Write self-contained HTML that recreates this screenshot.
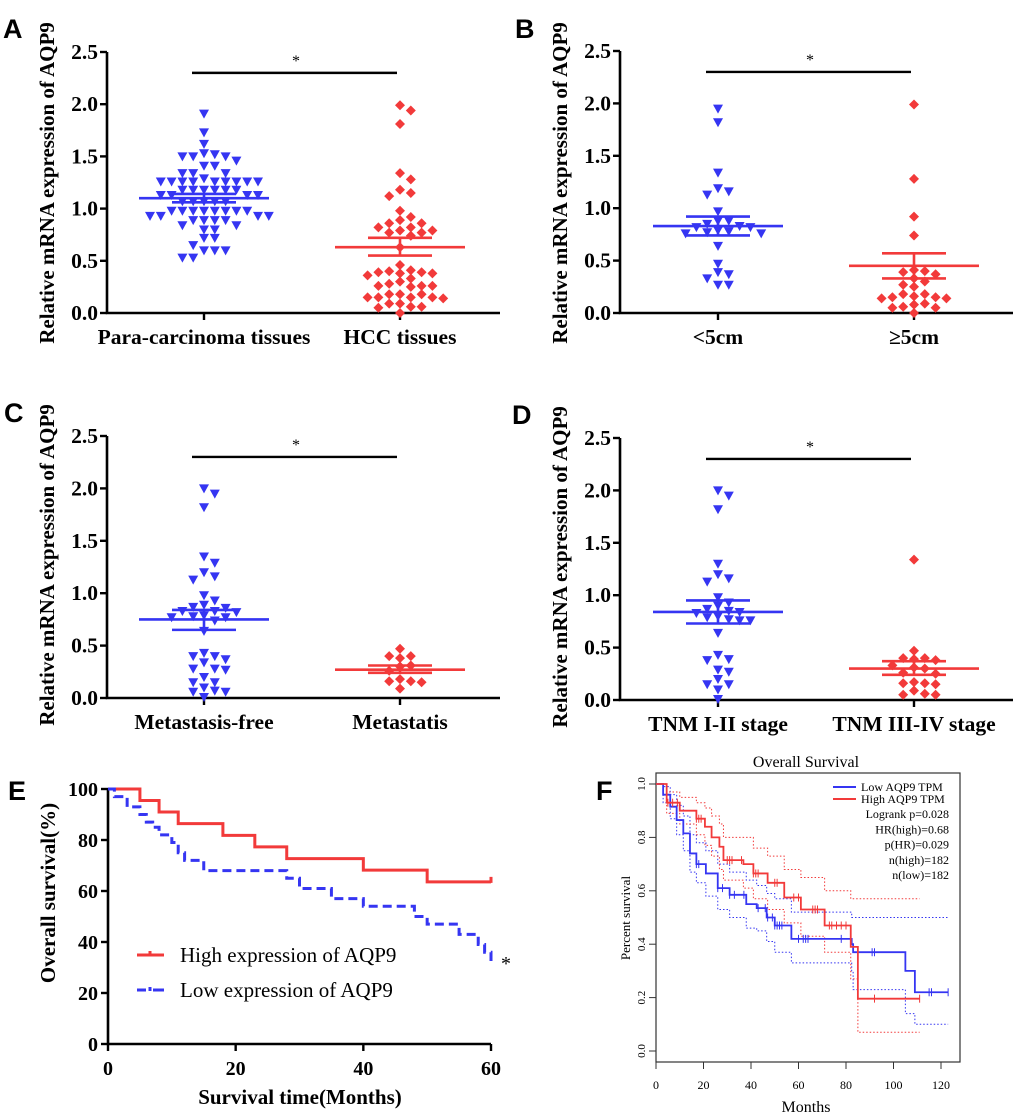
<!DOCTYPE html>
<html><head><meta charset="utf-8"><style>
html,body{margin:0;padding:0;background:#fff}
svg{display:block}
.sb{font-family:"Liberation Serif",serif;font-weight:bold}
.sr{font-family:"Liberation Serif",serif}
.lt{font-family:"Liberation Sans",sans-serif;font-weight:bold;font-size:27px}
</style></head><body>
<svg id="fig" width="1020" height="1118" viewBox="0 0 1020 1118" xmlns="http://www.w3.org/2000/svg"></svg>
<script>
// ---- Panel A data ----
const aCats=["Para-carcinoma tissues","HCC tissues"];
const aBlue=[1.91,1.73,1.62,1.53,1.50,1.50,1.50,1.52,1.46,1.41,1.41,1.34,1.34,1.34,1.29,1.26,1.26,1.26,1.26,1.26,1.26,1.26,1.26,1.26,1.18,1.18,1.18,1.18,1.18,1.18,1.13,1.13,1.13,1.13,1.07,1.07,1.07,1.07,1.07,0.98,0.98,0.98,0.98,0.98,0.98,0.98,0.98,0.93,0.93,0.93,0.93,0.89,0.89,0.89,0.89,0.84,0.84,0.80,0.80,0.72,0.72,0.65,0.60,0.60,0.60,0.53,0.53];
const aRed=[1.99,1.94,1.81,1.34,1.28,1.18,1.15,1.12,0.98,0.92,0.89,0.86,0.86,0.82,0.82,0.79,0.79,0.77,0.77,0.74,0.63,0.46,0.41,0.39,0.40,0.39,0.38,0.38,0.36,0.33,0.30,0.28,0.25,0.26,0.26,0.26,0.18,0.18,0.18,0.15,0.15,0.15,0.15,0.14,0.09,0.09,0.06,0.06,0.05,0.0];
const aMean=[1.10,0.63], aSemLo=[1.06,0.55], aSemHi=[1.14,0.72];
// ---- Panel B data ----
const bCats=["<5cm","≥5cm"];
const bBlue=[1.95,1.82,1.34,1.19,1.16,1.13,0.97,0.88,0.88,0.85,0.83,0.82,0.82,0.79,0.78,0.77,0.76,0.76,0.64,0.47,0.39,0.37,0.33,0.27,0.27];
const bRed=[1.99,1.28,0.92,0.74,0.41,0.40,0.39,0.37,0.33,0.30,0.27,0.25,0.18,0.18,0.16,0.15,0.15,0.14,0.14,0.09,0.08,0.06,0.05,0.05,0.0];
const bMean=[0.83,0.45], bSemLo=[0.74,0.33], bSemHi=[0.92,0.57];
// ---- Panel C data ----
const cCats=["Metastasis-free","Metastatis"];
const cBlue=[2.0,1.95,1.82,1.35,1.29,1.20,1.16,1.13,0.98,0.93,0.89,0.87,0.86,0.83,0.83,0.82,0.79,0.78,0.77,0.77,0.74,0.64,0.43,0.40,0.40,0.37,0.34,0.28,0.27,0.28,0.20,0.15,0.15,0.10,0.07,0.06,0.06,0.01];
const cRed=[0.47,0.40,0.38,0.40,0.31,0.30,0.26,0.18,0.16,0.16,0.15,0.09];
const cMean=[0.75,0.27], cSemLo=[0.65,0.24], cSemHi=[0.84,0.31];
// ---- Panel D data ----
const dCats=["TNM I-II stage","TNM III-IV stage"];
const dBlue=[2.0,1.95,1.82,1.30,1.20,1.16,1.13,0.98,0.93,0.90,0.87,0.85,0.84,0.83,0.80,0.79,0.77,0.76,0.76,0.64,0.43,0.39,0.38,0.29,0.27,0.20,0.15,0.15,0.10,0.01];
const dRed=[1.34,0.47,0.40,0.40,0.38,0.39,0.33,0.30,0.31,0.26,0.25,0.17,0.16,0.16,0.15,0.09,0.06,0.05,0.05];
const dMean=[0.84,0.30], dSemLo=[0.73,0.24], dSemHi=[0.95,0.37];
const scatTicks=["0.0","0.5","1.0","1.5","2.0","2.5"];
// ---- Panel E data ----
const eHighT=[0,5,8,11,18,23,28,40,50,60];
const eHighS=[100,95.5,91,86.4,81.8,77.3,72.7,68.2,63.6,63.6];
const eLowT=[0,1,3,5,6,7,8,10,11,12,15,28,30,35,40,48,50,55,58,59,60];
const eLowS=[100,97,93,90,87,85,82,79,75,72,68,65,61,57,54,50,47,43,39,36,32];
const eYTicks=[0,20,40,60,80,100];
const eXTicks=[0,20,40,60];
// ---- Panel F data ----
const fHighT=[0,4.5,10,17,20.6,23.4,26.7,28.4,36.8,41,47,54,61,71,82,85,111];
const fHighS=[1,0.93,0.90,0.87,0.84,0.80,0.765,0.715,0.70,0.665,0.63,0.575,0.53,0.47,0.39,0.196,0.196];
const fHighU=[1,0.97,0.95,0.93,0.91,0.88,0.85,0.80,0.80,0.76,0.73,0.68,0.65,0.60,0.57,0.57,0.57];
const fHighL=[1,0.89,0.85,0.81,0.77,0.73,0.68,0.64,0.61,0.57,0.53,0.48,0.43,0.37,0.27,0.07,0.07];
const fLowT=[0,3,6,8.7,11.5,14.3,17,21,26,31,38,42.4,46.6,50,57,82.4,83,105,109,123];
const fLowS=[1,0.96,0.915,0.865,0.815,0.74,0.70,0.665,0.61,0.585,0.55,0.535,0.50,0.47,0.42,0.40,0.37,0.30,0.22,0.22];
const fLowU=[1,0.99,0.96,0.92,0.88,0.81,0.78,0.75,0.70,0.67,0.64,0.62,0.59,0.57,0.52,0.50,0.50,0.50,0.50,0.50];
const fLowL=[1,0.93,0.87,0.81,0.75,0.67,0.63,0.58,0.53,0.50,0.46,0.45,0.41,0.37,0.33,0.30,0.23,0.14,0.10,0.10];
const fHighCens=[5,7,9,17,18,19,30,31,32,36,41,42,43,50,51,58,60,66,67,68,73,74,76,78,80,92,111];
const fLowCens=[17,18,26,28,31,33,37,43,46,47,49,50,51,52,53,60,62,63,64,78,82,91,92,115,116,123];
const fYTicks=[0,0.2,0.4,0.6,0.8,1.0];
const fXTicks=[0,20,40,60,80,100,120];

const NS="http://www.w3.org/2000/svg";
const svg=document.getElementById('fig');
function mk(tag,attrs,parent,text){const e=document.createElementNS(NS,tag);for(const k in attrs)e.setAttribute(k,attrs[k]);if(text!==undefined)e.textContent=text;(parent||svg).appendChild(e);return e;}
const BLUE="#3535f2", RED="#f23a3a";

function panelLetter(x,y,t){
  const e=mk('text',{x:x,y:y,class:'lt'},svg,t);
  
  
}

function scatterPanel(o){
  const g=mk('g',{});
  
  
  const ys=v=>o.y0-(o.y0-o.y25)*v/2.5;
  const ax=mk('path',{d:`M${o.ax},${o.y25} V${o.y0} H${o.xEnd}`,stroke:'#000','stroke-width':2.6,fill:'none'},g);
  
  
  scatTicks.forEach((t,i)=>{
    const y=ys(+t);
    const tk=mk('line',{x1:o.ax-7,x2:o.ax,y1:y,y2:y,stroke:'#000','stroke-width':2.4},g);
    
    
    const tl=mk('text',{x:o.ax-9,y:y+7,'text-anchor':'end','font-size':21.5,class:'sb'},g,t);
    
    
  });
  const yt=mk('text',{x:0,y:0,'text-anchor':'middle','font-size':21,class:'sb',transform:`translate(${o.titleX},${o.titleY}) rotate(-90)`},g,'Relative mRNA expression of  AQP9');
  
  
  o.cats.forEach((c,i)=>{
    const x=o.cx[i];
    const tk=mk('line',{x1:x,x2:x,y1:o.y0,y2:o.y0+7,stroke:'#000','stroke-width':2.4},g);
    
    
    const cl=mk('text',{x:x,y:o.y0+31,'text-anchor':'middle','font-size':21.5,class:'sb'},g,c);
    
    
  });
  const sl=mk('line',{x1:o.cx[0]-12,x2:o.cx[1]-3,y1:ys(2.3),y2:ys(2.3),stroke:'#000','stroke-width':2.4},g);
  
  
  const st=mk('text',{x:(o.cx[0]+o.cx[1])/2-6,y:ys(2.3)-7,'text-anchor':'middle','font-size':16,class:'sr'},g,'*');
  
  
  [[o.blue,BLUE,'tri'],[o.red,RED,'dia']].forEach((ser,si)=>{
    const placed=[];
    const sorted=ser[0].slice().sort((a,b)=>b-a);
    sorted.forEach(v=>{
      const y=ys(v);
      let off=0;
      for(let k=0;k<40;k++){
        const c=k===0?0:(k%2?1:-1)*Math.ceil(k/2)*10.8;
        if(!placed.some(p=>Math.abs(p.y-y)<8&&Math.abs(p.x-c)<10)){off=c;break;}
      }
      placed.push({x:off,y:y});
      const x=o.cx[si]+off;
      let m;
      if(ser[2]==='tri') m=mk('path',{d:`M${x-5},${y-4} L${x+5},${y-4} L${x},${y+5} Z`,fill:ser[1]},g);
      else m=mk('path',{d:`M${x},${y-5} L${x+5},${y} L${x},${y+5} L${x-5},${y} Z`,fill:ser[1]},g);
      
      
    });
  });
  [BLUE,RED].forEach((col,i)=>{
    const x=o.cx[i];
    const ml=mk('line',{x1:x-65,x2:x+65,y1:ys(o.mean[i]),y2:ys(o.mean[i]),stroke:col,'stroke-width':2.6},g);
    
    
    const sem=mk('path',{d:`M${x-32},${ys(o.hi[i])} H${x+32} M${x-32},${ys(o.lo[i])} H${x+32} M${x},${ys(o.hi[i])} V${ys(o.lo[i])}`,stroke:col,'stroke-width':2.6,fill:'none'},g);
    
    
  });
}

scatterPanel({id:'a',ax:107,y0:313,y25:52,xEnd:500,cx:[204,400],titleX:54,titleY:183,cats:aCats,blue:aBlue,red:aRed,mean:aMean,lo:aSemLo,hi:aSemHi});
scatterPanel({id:'b',ax:620,y0:313,y25:51,xEnd:1013,cx:[718,914],titleX:567,titleY:183,cats:bCats,blue:bBlue,red:bRed,mean:bMean,lo:bSemLo,hi:bSemHi});
scatterPanel({id:'c',ax:107,y0:698,y25:436,xEnd:500,cx:[204,400],titleX:54,titleY:565,cats:cCats,blue:cBlue,red:cRed,mean:cMean,lo:cSemLo,hi:cSemHi});
scatterPanel({id:'d',ax:620,y0:700,y25:438,xEnd:1013,cx:[718,914],titleX:567,titleY:567,cats:dCats,blue:dBlue,red:dRed,mean:dMean,lo:dSemLo,hi:dSemHi});
panelLetter(3,38,'A');panelLetter(515,38,'B');panelLetter(4,422,'C');panelLetter(512,424,'D');panelLetter(8,800,'E');panelLetter(596,800,'F');

function stepPath(ts,ss,xs,ys){let d=`M${xs(ts[0])},${ys(ss[0])}`;for(let i=1;i<ts.length;i++){d+=` H${xs(ts[i])} V${ys(ss[i])}`;}return d;}

// ---- Panel E ----
(function(){
  const g=mk('g',{});
  
  
  const xs=t=>108+(491-108)*t/60, ys=v=>1044-(1044-789)*v/100;
  const ax=mk('path',{d:`M108,789 V1044 H491`,stroke:'#000','stroke-width':2.6,fill:'none'},g);
  
  
  eYTicks.forEach(t=>{
    const tk=mk('line',{x1:101,x2:108,y1:ys(t),y2:ys(t),stroke:'#000','stroke-width':2.4},g);
    
    
    const tl=mk('text',{x:98,y:ys(t)+7,'text-anchor':'end','font-size':20,class:'sb'},g,t);
    
    
  });
  eXTicks.forEach(t=>{
    const tk=mk('line',{x1:xs(t),x2:xs(t),y1:1044,y2:1051,stroke:'#000','stroke-width':2.4},g);
    
    
    const tl=mk('text',{x:xs(t),y:1075,'text-anchor':'middle','font-size':20,class:'sb'},g,t);
    
    
  });
  const yt=mk('text',{x:0,y:0,'text-anchor':'middle','font-size':21,class:'sb',transform:'translate(55,893) rotate(-90)'},g,'Overall survival(%)');
  
  
  const xt=mk('text',{x:300,y:1104,'text-anchor':'middle','font-size':21,class:'sb'},g,'Survival time(Months)');
  
  
  const hp=mk('path',{d:stepPath(eHighT,eHighS,xs,ys)+` M${xs(60)},${ys(eHighS[eHighS.length-1])-5} V${ys(eHighS[eHighS.length-1])+1}`,stroke:RED,'stroke-width':3,fill:'none'},g);
  
  
  const lp=mk('path',{d:stepPath(eLowT,eLowS,xs,ys),stroke:BLUE,'stroke-width':3,fill:'none','stroke-dasharray':'9,5'},g);
  
  
  const st=mk('text',{x:501,y:970,'font-size':20,class:'sr'},g,'*');
  
  
  const l1=mk('path',{d:'M137,955 H164 M150,951 V955',stroke:RED,'stroke-width':3,fill:'none'},g);
  
  
  const t1=mk('text',{x:180,y:962,'font-size':21,class:'sr'},g,'High expression of AQP9');
  
  
  const l2=mk('path',{d:'M137,990 H146 M150,987 V991 M153,990 H164',stroke:BLUE,'stroke-width':3,fill:'none'},g);
  
  
  const t2=mk('text',{x:180,y:997,'font-size':21,class:'sr'},g,'Low  expression of AQP9');
  
  
})();

// ---- Panel F ----
(function(){
  const g=mk('g',{});
  
  
  const xs=t=>656+(941-656)*t/120, ys=v=>1051-(1051-784)*v;
  const box=mk('rect',{x:656,y:773,width:304,height:289,fill:'none',stroke:'#333','stroke-width':1.2},g);
  
  
  const ti=mk('text',{x:806,y:767,'text-anchor':'middle','font-size':16,class:'sr'},g,'Overall Survival');
  
  
  fYTicks.forEach(t=>{
    const tk=mk('line',{x1:649,x2:656,y1:ys(t),y2:ys(t),stroke:'#333','stroke-width':1},g);
    
    
    const tl=mk('text',{x:0,y:0,'text-anchor':'middle','font-size':11,class:'sr',transform:`translate(645,${ys(t)}) rotate(-90)`},g,t.toFixed(1));
    
    
  });
  fXTicks.forEach(t=>{
    const tk=mk('line',{x1:xs(t),x2:xs(t),y1:1062,y2:1069,stroke:'#333','stroke-width':1},g);
    
    
    const tl=mk('text',{x:xs(t),y:1089,'text-anchor':'middle','font-size':12,class:'sr'},g,t);
    
    
  });
  const yt=mk('text',{x:0,y:0,'text-anchor':'middle','font-size':13,class:'sr',transform:'translate(630,918) rotate(-90)'},g,'Percent survival');
  
  
  const xt=mk('text',{x:806,y:1112,'text-anchor':'middle','font-size':16,class:'sr'},g,'Months');
  
  
  [[fLowT,fLowU,BLUE,'low-upper-ci'],[fLowT,fLowL,BLUE,'low-lower-ci'],[fHighT,fHighU,RED,'high-upper-ci'],[fHighT,fHighL,RED,'high-lower-ci']].forEach(s=>{
    const p=mk('path',{d:stepPath(s[0],s[1],xs,ys),stroke:s[2],'stroke-width':1,fill:'none','stroke-dasharray':'1.5,2'},g);
    
    
  });
  [[fLowT,fLowS,BLUE,'low-aqp9-curve',fLowCens],[fHighT,fHighS,RED,'high-aqp9-curve',fHighCens]].forEach(s=>{
    const p=mk('path',{d:stepPath(s[0],s[1],xs,ys),stroke:s[2],'stroke-width':1.8,fill:'none'},g);
    
    
    s[4].forEach(c=>{
      let v=s[1][0];for(let i=0;i<s[0].length;i++){if(s[0][i]<=c)v=s[1][i];}
      const m=mk('line',{x1:xs(c),x2:xs(c),y1:ys(v)-4,y2:ys(v)+4,stroke:s[2],'stroke-width':1},g);
      
      
    });
  });
  const l1=mk('line',{x1:833,x2:856,y1:787,y2:787,stroke:BLUE,'stroke-width':2},g);
  
  
  const t1=mk('text',{x:861,y:791,'font-size':12,class:'sr'},g,'Low AQP9 TPM');
  
  
  const l2=mk('line',{x1:833,x2:856,y1:799,y2:799,stroke:RED,'stroke-width':2},g);
  
  
  const t2=mk('text',{x:861,y:803,'font-size':12,class:'sr'},g,'High AQP9 TPM');
  
  
  ['Logrank p=0.028','HR(high)=0.68','p(HR)=0.029','n(high)=182','n(low)=182'].forEach((s,i)=>{
    const t=mk('text',{x:949,y:818+i*15.3,'text-anchor':'end','font-size':12,class:'sr'},g,s);
    
    
  });
})();
</script>
</body></html>
